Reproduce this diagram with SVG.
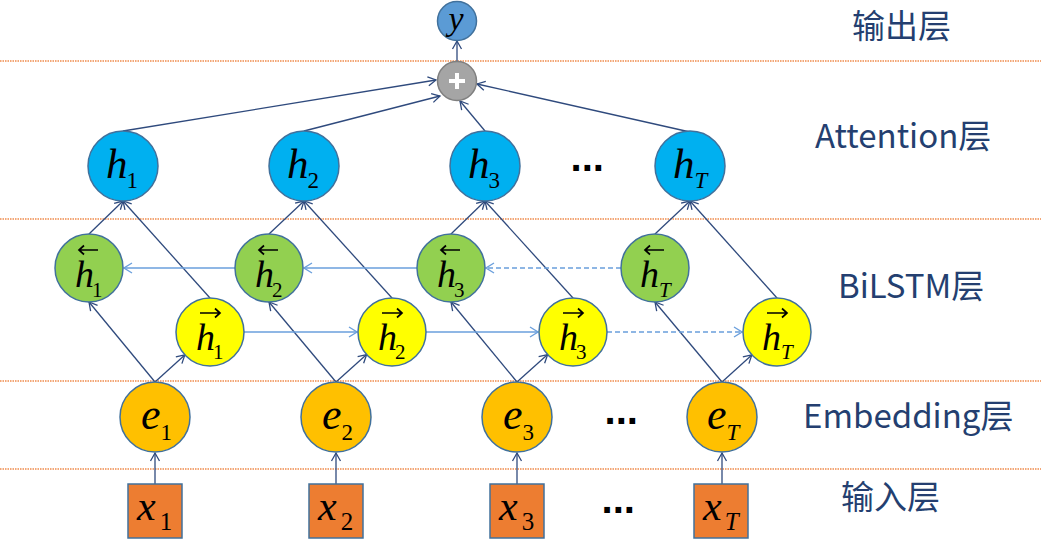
<svg xmlns="http://www.w3.org/2000/svg" width="1057" height="541" viewBox="0 0 1057 541">
<defs>
<style>
.sep{stroke:#f08a4b;stroke-width:1.5;stroke-dasharray:1.5 1;fill:none}
.lbl{font-family:"Noto Sans CJK SC","Noto Sans",sans-serif;font-size:33px;fill:#243f70}
.con{stroke:#2f4a7d;stroke-width:1.3;fill:none;marker-end:url(#ad)}
.lb{stroke:#6a9fdc;stroke-width:1.6;fill:none;marker-end:url(#al)}
.dash{stroke-dasharray:5 3}
.nd{stroke:#41719c;stroke-width:1.5}
.att{fill:#00b0f0}
.bw{fill:#92d050}
.fw{fill:#ffff00}
.emb{fill:#ffc000}
.inp{fill:#ed7d31}
.m{font-family:"Liberation Serif",serif;font-style:italic;fill:#000}
.s{font-style:normal}
.acc{stroke:#000;stroke-width:1.7;fill:none}
.dots{font-family:"DejaVu Sans",sans-serif;font-weight:bold;font-size:32px;fill:#000;letter-spacing:-1px}
</style>
<marker id="ad" markerWidth="12" markerHeight="12" refX="0" refY="0" viewBox="-10 -6 12 12" orient="auto" markerUnits="userSpaceOnUse">
<path d="M-8,-4.5 L0,0 L-8,4.5" stroke="#2f4a7d" stroke-width="1.3" fill="none"/>
</marker>
<marker id="al" markerWidth="12" markerHeight="12" refX="0" refY="0" viewBox="-10 -6 12 12" orient="auto" markerUnits="userSpaceOnUse">
<path d="M-8,-5 L0,0 L-8,5" stroke="#6a9fdc" stroke-width="1.4" fill="none"/>
</marker>
</defs>
<rect width="1057" height="541" fill="#fff"/>
<g id="separators">
<line class="sep" x1="0" y1="61" x2="1041" y2="61"/>
<line class="sep" x1="0" y1="219" x2="1041" y2="219"/>
<line class="sep" x1="0" y1="381" x2="1041" y2="381"/>
<line class="sep" x1="0" y1="469" x2="1041" y2="469"/>
</g>
<g id="labels">
<text class="lbl" x="852" y="38">输出层</text>
<text class="lbl" x="815" y="148">Attention层</text>
<text class="lbl" x="838" y="298">BiLSTM层</text>
<text class="lbl" x="803" y="428">Embedding层</text>
<text class="lbl" x="841" y="509">输入层</text>
</g>
<g id="connectors">
<line class="con" x1="457" y1="62" x2="457" y2="41"/>
<line class="con" x1="123" y1="131" x2="436" y2="80"/>
<line class="con" x1="304" y1="131" x2="440" y2="96"/>
<line class="con" x1="485" y1="131" x2="460" y2="101"/>
<line class="con" x1="690" y1="132" x2="477" y2="84"/>
<line class="con" x1="89" y1="234" x2="123" y2="201"/>
<line class="con" x1="210" y1="298" x2="123" y2="201"/>
<line class="con" x1="269" y1="234" x2="304" y2="201"/>
<line class="con" x1="392" y1="298" x2="304" y2="201"/>
<line class="con" x1="451" y1="234" x2="485" y2="201"/>
<line class="con" x1="573" y1="298" x2="485" y2="201"/>
<line class="con" x1="655" y1="234" x2="690" y2="201"/>
<line class="con" x1="777" y1="298" x2="690" y2="201"/>
<line class="con" x1="155" y1="382" x2="89" y2="302"/>
<line class="con" x1="155" y1="382" x2="184.8" y2="354.9"/>
<line class="con" x1="336" y1="382" x2="269" y2="302"/>
<line class="con" x1="336" y1="382" x2="366.6" y2="354.6"/>
<line class="con" x1="517" y1="382" x2="451" y2="302"/>
<line class="con" x1="517" y1="382" x2="547.6" y2="354.6"/>
<line class="con" x1="722" y1="382" x2="655" y2="302"/>
<line class="con" x1="722" y1="382" x2="751.8" y2="354.9"/>
<line class="con" x1="155" y1="484" x2="155" y2="453"/>
<line class="con" x1="336" y1="484" x2="336" y2="453"/>
<line class="con" x1="517" y1="484" x2="517" y2="453"/>
<line class="con" x1="722" y1="484" x2="722" y2="453"/>
<line class="lb" x1="235" y1="268" x2="124" y2="268"/>
<line class="lb" x1="417" y1="268" x2="304" y2="268"/>
<line class="lb dash" x1="621" y1="268" x2="486" y2="268"/>
<line class="lb" x1="244" y1="332" x2="357" y2="332"/>
<line class="lb" x1="426" y1="332" x2="538" y2="332"/>
<line class="lb dash" x1="607" y1="332" x2="742" y2="332"/>
</g>
<g id="node-y">
<circle cx="457" cy="21" r="19.5" fill="#5b9bd5" class="nd"/>
<text class="m" x="456" y="30" font-size="34" text-anchor="middle">y</text>
</g>
<g id="node-plus">
<circle cx="457" cy="81" r="19.5" fill="#a5a5a5" stroke="#7f7f7f" stroke-width="1.5"/>
<path d="M449,81 H465 M457,73 V89" stroke="#fff" stroke-width="4"/>
</g>
<g id="node-h1"><circle class="nd att" cx="123" cy="166" r="35"/><text class="m" x="106" y="178" font-size="43">h<tspan class="s" font-size="23" dx="-1" dy="10">1</tspan></text></g>
<g id="node-h2"><circle class="nd att" cx="304" cy="166" r="35"/><text class="m" x="287" y="178" font-size="43">h<tspan class="s" font-size="23" dx="-1" dy="10">2</tspan></text></g>
<g id="node-h3"><circle class="nd att" cx="485" cy="166" r="35"/><text class="m" x="468" y="178" font-size="43">h<tspan class="s" font-size="23" dx="-1" dy="10">3</tspan></text></g>
<g id="node-hT"><circle class="nd att" cx="690" cy="166" r="35"/><text class="m" x="673" y="178" font-size="43">h<tspan font-size="23" dy="10">T</tspan></text></g>
<g id="dots-att"><text class="dots" x="570" y="171">...</text></g>
<g id="node-hb1"><circle class="nd bw" cx="89" cy="268" r="34"/><path class="acc" d="M79,250 H98 M84,245.5 L79,250 L84,254.5"/><text class="m" x="75" y="287" font-size="38">h<tspan class="s" font-size="21" dx="-2" dy="10">1</tspan></text></g>
<g id="node-hb2"><circle class="nd bw" cx="269" cy="268" r="34"/><path class="acc" d="M259,250 H278 M264,245.5 L259,250 L264,254.5"/><text class="m" x="255" y="287" font-size="38">h<tspan class="s" font-size="21" dx="-2" dy="10">2</tspan></text></g>
<g id="node-hb3"><circle class="nd bw" cx="451" cy="268" r="34"/><path class="acc" d="M441,250 H460 M446,245.5 L441,250 L446,254.5"/><text class="m" x="437" y="287" font-size="38">h<tspan class="s" font-size="21" dx="-2" dy="10">3</tspan></text></g>
<g id="node-hbT"><circle class="nd bw" cx="655" cy="268" r="34"/><path class="acc" d="M645,250 H664 M650,245.5 L645,250 L650,254.5"/><text class="m" x="640" y="287" font-size="38">h<tspan font-size="21" dy="10">T</tspan></text></g>
<g id="node-hf1"><circle class="nd fw" cx="210" cy="332" r="34"/><path class="acc" d="M200,313 H220 M215,308.5 L220,313 L215,317.5"/><text class="m" x="196" y="350" font-size="38">h<tspan class="s" font-size="21" dx="-2" dy="9">1</tspan></text></g>
<g id="node-hf2"><circle class="nd fw" cx="392" cy="332" r="34"/><path class="acc" d="M382,313 H402 M397,308.5 L402,313 L397,317.5"/><text class="m" x="378" y="350" font-size="38">h<tspan class="s" font-size="21" dx="-2" dy="9">2</tspan></text></g>
<g id="node-hf3"><circle class="nd fw" cx="573" cy="332" r="34"/><path class="acc" d="M563,313 H583 M578,308.5 L583,313 L578,317.5"/><text class="m" x="559" y="350" font-size="38">h<tspan class="s" font-size="21" dx="-2" dy="9">3</tspan></text></g>
<g id="node-hfT"><circle class="nd fw" cx="777" cy="332" r="34"/><path class="acc" d="M767,313 H787 M782,308.5 L787,313 L782,317.5"/><text class="m" x="762" y="350" font-size="38">h<tspan font-size="21" dy="9">T</tspan></text></g>
<g id="node-e1"><circle class="nd emb" cx="155" cy="417" r="35"/><text class="m" x="141" y="429" font-size="44">e<tspan class="s" font-size="23" dy="11">1</tspan></text></g>
<g id="node-e2"><circle class="nd emb" cx="336" cy="417" r="35"/><text class="m" x="322" y="429" font-size="44">e<tspan class="s" font-size="23" dy="11">2</tspan></text></g>
<g id="node-e3"><circle class="nd emb" cx="517" cy="417" r="35"/><text class="m" x="503" y="429" font-size="44">e<tspan class="s" font-size="23" dy="11">3</tspan></text></g>
<g id="node-eT"><circle class="nd emb" cx="722" cy="417" r="35"/><text class="m" x="707" y="429" font-size="44">e<tspan font-size="23" dy="11">T</tspan></text></g>
<g id="dots-emb"><text class="dots" x="604" y="424">...</text></g>
<g id="node-x1"><rect class="nd inp" x="128" y="484" width="54" height="54"/><text class="m" x="137" y="520" font-size="42">x<tspan class="s" font-size="25" dx="4" dy="10">1</tspan></text></g>
<g id="node-x2"><rect class="nd inp" x="309" y="484" width="54" height="54"/><text class="m" x="318" y="520" font-size="42">x<tspan class="s" font-size="25" dx="4" dy="10">2</tspan></text></g>
<g id="node-x3"><rect class="nd inp" x="490" y="484" width="54" height="54"/><text class="m" x="499" y="520" font-size="42">x<tspan class="s" font-size="25" dx="4" dy="10">3</tspan></text></g>
<g id="node-xT"><rect class="nd inp" x="694" y="484" width="54" height="54"/><text class="m" x="703" y="520" font-size="42">x<tspan font-size="25" dx="3" dy="10">T</tspan></text></g>
<g id="dots-inp"><text class="dots" x="601" y="513">...</text></g>
</svg>
